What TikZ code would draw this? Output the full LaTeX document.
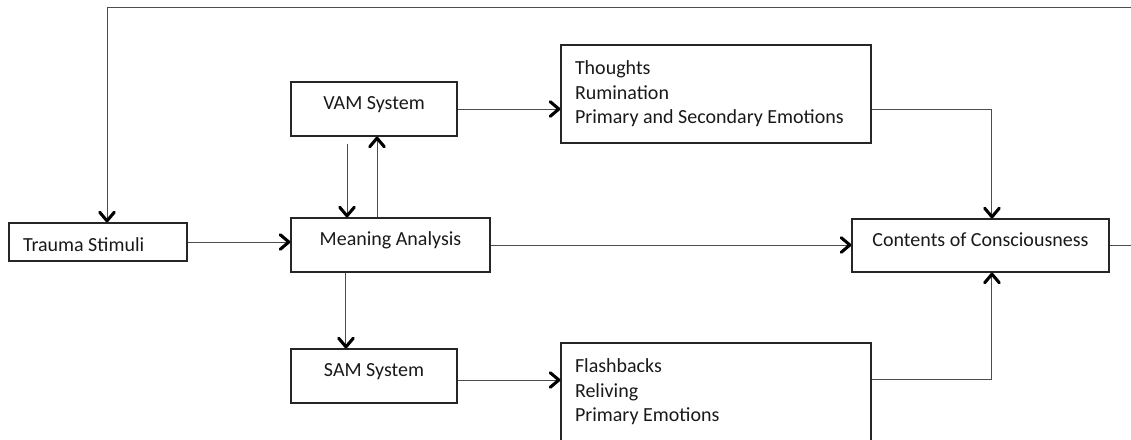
\documentclass[tikz,border=0pt]{standalone}
\usepackage{fontspec}
\setmainfont{Carlito}
\usetikzlibrary{arrows.meta}
\begin{document}
\begin{tikzpicture}[x=0.75pt,y=-0.75pt,
  every node/.style={font=\fontsize{15}{18.4}\selectfont, text=black!90},
  box/.style={draw=black!85, line width=0.9pt, inner sep=0pt, text height=0.75pt, text depth=0pt},
  listbox/.style={draw=black!85, line width=0.9pt, inner ysep=0pt, inner xsep=10.5pt,
    minimum width=232.5pt, minimum height=73.5pt, text width=211.5pt, align=flush left},
  conn/.style={draw=black!70, line width=0.75pt},
  arr/.style={conn, -{Straight Barb[length=6.5pt,width=11pt,line width=2.3pt,round,color=black]}}]
\useasboundingbox (0,0) rectangle (1131,439);
\clip (0,0) rectangle (1131,439);

\node[box, minimum width=133.5pt, minimum height=28.5pt, text width=112.5pt, align=flush left,
      inner xsep=10.5pt, text height=13.5pt] (trauma) at (98,242) {Trauma Stimuli};
\node[box, minimum width=149.25pt, minimum height=40.5pt] (meaning) at (390.5,245) {Meaning Analysis};
\node[box, minimum width=124.5pt, minimum height=40.5pt] (vam) at (374,109) {VAM System};
\node[box, minimum width=124.5pt, minimum height=40.5pt] (sam) at (374,376) {SAM System};
\node[box, minimum width=192.75pt, minimum height=39.75pt] (contents) at (980.5,245.5) {Contents of Consciousness};
\node[listbox] (thoughts) at (716,94) {Thoughts\\Rumination\\Primary and Secondary Emotions};
\node[listbox] (flash) at (716,392) {Flashbacks\\Reliving\\Primary Emotions};

\coordinate (vd) at ([xshift=-20.25pt,yshift=-5.25pt]vam.south);
\coordinate (vu) at ([xshift=2.25pt]vam.south);
\coordinate (md) at ([xshift=-33.4pt]meaning.south);
\coordinate (ct) at ([xshift=8.6pt]contents.north);
\coordinate (cb) at ([xshift=8.6pt]contents.south);
\coordinate (ts) at ([xshift=6.75pt]trauma.north);
\coordinate (se) at ([yshift=-3pt]sam.east);
\coordinate (fe) at ([yshift=9.75pt]flash.east);
\coordinate (fbr) at (1145,7);

\draw[arr] (trauma.east) -- (meaning.west |- trauma.east);
\draw[arr] (meaning.east) -- (contents.west |- meaning.east);
\draw[arr] (vam.east) -- (thoughts.west |- vam.east);
\draw[arr] (se) -- (flash.west |- se);
\draw[arr] (vd) -- (vd |- meaning.north);
\draw[arr] (vu |- meaning.north) -- (vu);
\draw[arr] (md) -- (md |- sam.north);
\draw[arr] (thoughts.east |- vam.east) -| (ct);
\draw[arr] (fe) -| (cb);
\draw[arr] (contents.east) -- (contents.east -| fbr) -- (fbr) -| (ts);
\end{tikzpicture}
\end{document}
